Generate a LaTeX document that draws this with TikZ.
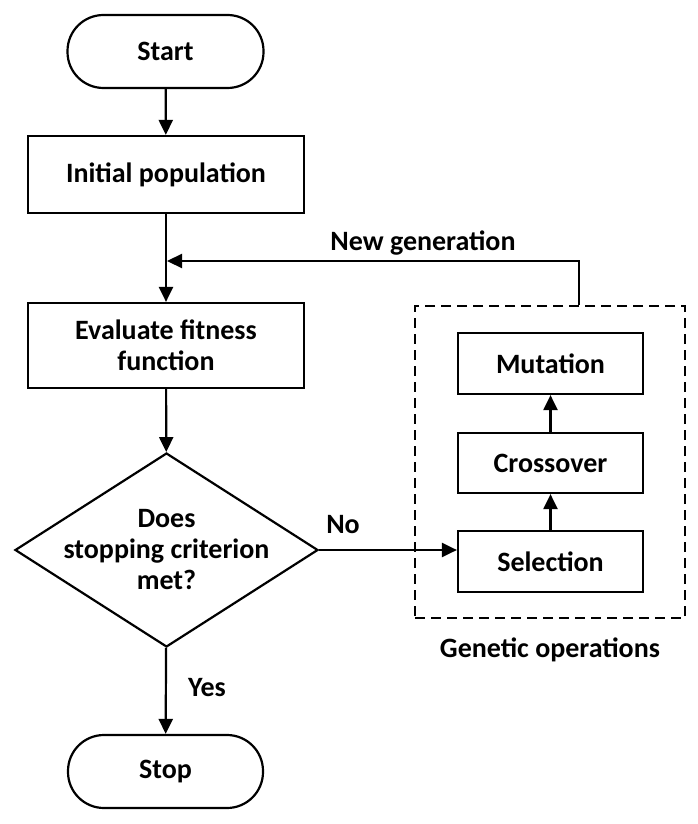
\documentclass[tikz,border=0pt]{standalone}
\usepackage{fontspec}
\setmainfont{Carlito}
\usetikzlibrary{shapes.geometric,arrows.meta}
\begin{document}
\begin{tikzpicture}[x=1pt,y=-1pt,
  every node/.style={font=\bfseries\fontsize{28}{31}\selectfont},
  box/.style={draw,rectangle,line width=2.2pt,inner sep=0pt},
  term/.style={box,rounded corners=36pt},
  arr/.style={line width=2.2pt,-{Triangle[length=15pt,width=14pt]}},
  lbl/.style={inner sep=0pt}]
\useasboundingbox (0,0) rectangle (697,824);
\node[term,minimum width=196pt,minimum height=73pt] (start) at (165.5,51.5) {Start};
\node[box,minimum width=276pt,minimum height=77pt] (init) at (166,174.5) {Initial population};
\node[box,minimum width=276pt,minimum height=85pt,align=center] (eval) at (166,345.5) {Evaluate fitness\\function};
\node[diamond,draw,line width=2.2pt,inner sep=0pt,minimum width=303pt,minimum height=194pt] (dec) at (166.5,550) {};
\node[align=center] (dect) at (166.5,550) {Does\\stopping criterion\\met?};
\node[term,minimum width=195pt,minimum height=73pt] (stop) at (165.5,771.5) {Stop};
\node[draw,rectangle,dashed,dash pattern=on 10pt off 6pt,line width=2.2pt,inner sep=0pt,minimum width=270pt,minimum height=312pt] (gen) at (550,462) {};
\node[box,minimum width=185pt,minimum height=61pt] (mut) at (550.5,363.5) {Mutation};
\node[box,minimum width=185pt,minimum height=60pt] (cross) at (550.5,463) {Crossover};
\node[box,minimum width=185pt,minimum height=61pt] (sel) at (550.5,561.5) {Selection};
\node[lbl] (newg) at (423,243) {New generation};
\node[lbl] (genop) at (550,650) {Genetic operations};
\node[lbl] (no) at (343,525) {No};
\node[lbl] (yes) at (207,688) {Yes};
\coordinate (junc) at (167,261);
\coordinate (ngx) at (579,0);
\draw[arr] (start) -- (init);
\draw[arr] (init) -- (eval);
\draw[arr] (eval) -- (dec);
\draw[arr] (dec) -- (stop);
\draw[arr] (dec.east) -- (dec.east -| sel.west);
\draw[arr] (sel) -- (cross);
\draw[arr] (cross) -- (mut);
\draw[arr] (gen.north -| ngx) |- (junc);
\end{tikzpicture}
\end{document}
